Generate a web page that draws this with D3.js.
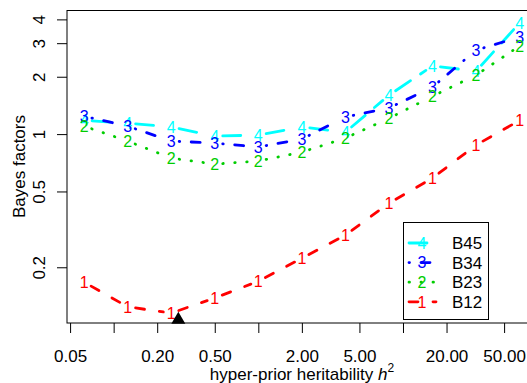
<!DOCTYPE html>
<html><head><meta charset="utf-8">
<script src="https://cdn.jsdelivr.net/npm/d3@7"></script>
<style>
html,body{margin:0;padding:0;background:#fff;}
svg{display:block;font-family:"Liberation Sans",Arial,sans-serif;}
</style></head>
<body><svg id="c" width="527" height="383"></svg>
<script>
// ---- data ----
const hValues = [0.0625, 0.125, 0.25, 0.5, 1, 2, 4, 8, 16, 32, 64];
const seriesNames = ["B12", "B23", "B34", "B45"];
const seriesMarks = ["1", "2", "3", "4"];
const b12 = [0.167, 0.124, 0.115, 0.138, 0.169, 0.223, 0.295, 0.434, 0.588, 0.876, 1.18];
const b23 = [1.10, 0.919, 0.748, 0.696, 0.722, 0.804, 0.953, 1.21, 1.58, 2.04, 2.90];
const b34 = [1.24, 1.10, 0.919, 0.897, 0.855, 0.942, 1.23, 1.37, 1.765, 2.76, 3.23];
const b45 = [1.18, 1.14, 1.09, 0.976, 0.988, 1.09, 1.024, 1.60, 2.28, 2.14, 3.83];
const xTickValues = [0.05, 0.1, 0.2, 0.5, 1, 2, 5, 10, 20, 50];
const xTickLabels = ["0.05", "", "0.20", "0.50", "", "2.00", "5.00", "", "20.00", "50.00"];
const yTickValues = [0.2, 0.5, 1, 2, 3, 4];
const yTickLabels = ["0.2", "0.5", "1", "2", "3", "4"];
const estimateX = [0.28];
const estimateY = [0.106];
const legendOrder = ["B45", "B34", "B23", "B12"];

// ---- styles ----
const colors = {B12: "#FF0000", B23: "#00CD00", B34: "#0000FF", B45: "#00FFFF"};
const dashes = {B12: "9 15", B23: "0.5 11.5", B34: "0.5 11.5 9 12", B45: "18 12"};
const seriesValues = {B12: b12, B23: b23, B34: b34, B45: b45};
const marks = {B12: "1", B23: "2", B34: "3", B45: "4"};

const svg = d3.select("#c");
const L = 67, R = 537, T = 10, B = 323;
const x = d3.scaleLog().domain([0.0476, 84.4]).range([L, R]);
const y = d3.scaleLog().domain([0.102, 4.48]).range([B, T]);
const font = 17;

// axes
const xAxis = d3.axisBottom(x).tickValues(xTickValues)
  .tickFormat((d, i) => xTickLabels[i]).tickSize(10).tickPadding(17);
const gx = svg.append("g").attr("transform", `translate(0,${B})`).call(xAxis);
gx.select(".domain").remove();
gx.selectAll("text").attr("font-size", font).attr("font-family", "Liberation Sans, Arial, sans-serif").attr("fill", "#000");
gx.selectAll("line").attr("stroke", "#000");

const yAxis = d3.axisLeft(y).tickValues(yTickValues)
  .tickFormat((d, i) => yTickLabels[i]).tickSize(10);
const gy = svg.append("g").attr("transform", `translate(${L},0)`).call(yAxis);
gy.select(".domain").remove();
gy.selectAll("line").attr("stroke", "#000");
gy.selectAll("text").attr("x", null).attr("dy", null).attr("y", null)
  .attr("text-anchor", "middle")
  .attr("transform", "translate(-22,0) rotate(-90)")
  .attr("font-size", font).attr("font-family", "Liberation Sans, Arial, sans-serif").attr("fill", "#000");

// plot box
svg.append("rect").attr("x", L).attr("y", T + 0.5).attr("width", R - L).attr("height", B - T - 0.5)
  .attr("fill", "none").attr("stroke", "#000").attr("stroke-width", 1);

// series (type = "b")
const gap = 8;
const plotG = svg.append("g");
["B45", "B34", "B23", "B12"].forEach(name => {
  const vals = seriesValues[name];
  const pts = hValues.map((h, i) => [x(h), y(vals[i])]);
  for (let i = 0; i < pts.length - 1; i++) {
    const [x1, y1] = pts[i], [x2, y2] = pts[i + 1];
    const dx = x2 - x1, dy = y2 - y1, d = Math.hypot(dx, dy);
    if (d <= 2 * gap) continue;
    const ux = dx / d, uy = dy / d;
    plotG.append("line")
      .attr("x1", x1 + ux * gap).attr("y1", y1 + uy * gap)
      .attr("x2", x2 - ux * gap).attr("y2", y2 - uy * gap)
      .attr("stroke", colors[name]).attr("stroke-width", 2.8)
      .attr("stroke-dasharray", dashes[name]).attr("stroke-linecap", "round");
  }
  plotG.selectAll(null).data(pts).enter().append("text")
    .attr("x", d => d[0]).attr("y", d => d[1]).attr("dy", "0.36em")
    .attr("text-anchor", "middle").attr("font-size", 16)
    .attr("fill", colors[name]).text(marks[name]);
});

// estimate triangle
svg.selectAll(null).data(estimateX).enter().append("path")
  .attr("d", d3.symbol(d3.symbolTriangle, 85))
  .attr("transform", (d, i) => `translate(${x(d)},${y(estimateY[i])})`)
  .attr("fill", "#000");

// legend
const lg = svg.append("g");
lg.append("rect").attr("x", 403.5).attr("y", 222.5).attr("width", 85).attr("height", 97)
  .attr("fill", "#fff").attr("stroke", "#000").attr("stroke-width", 1);
legendOrder.forEach((name, i) => {
  const ry = 243 + i * 19.6;
  lg.append("line").attr("x1", 409).attr("x2", 436).attr("y1", ry).attr("y2", ry)
    .attr("stroke", colors[name]).attr("stroke-width", 2.8)
    .attr("stroke-dasharray", dashes[name]).attr("stroke-linecap", "round");
  lg.append("text").attr("x", 422).attr("y", ry).attr("dy", "0.36em")
    .attr("text-anchor", "middle").attr("font-size", 16).attr("fill", colors[name]).text(marks[name]);
  lg.append("text").attr("x", 452).attr("y", ry).attr("dy", "0.36em")
    .attr("font-size", font).attr("fill", "#000").text(name);
});

// axis titles
svg.append("text").attr("transform", `translate(25,${(T + B) / 2}) rotate(-90)`)
  .attr("text-anchor", "middle").attr("font-size", font).text("Bayes factors");
const xt = svg.append("text").attr("x", (L + R) / 2).attr("y", 380)
  .attr("text-anchor", "middle").attr("font-size", font);
xt.append("tspan").text("hyper-prior heritability ");
xt.append("tspan").attr("font-style", "italic").text("h");
xt.append("tspan").attr("font-size", 12).attr("dy", -8).text("2");
</script></body></html>
